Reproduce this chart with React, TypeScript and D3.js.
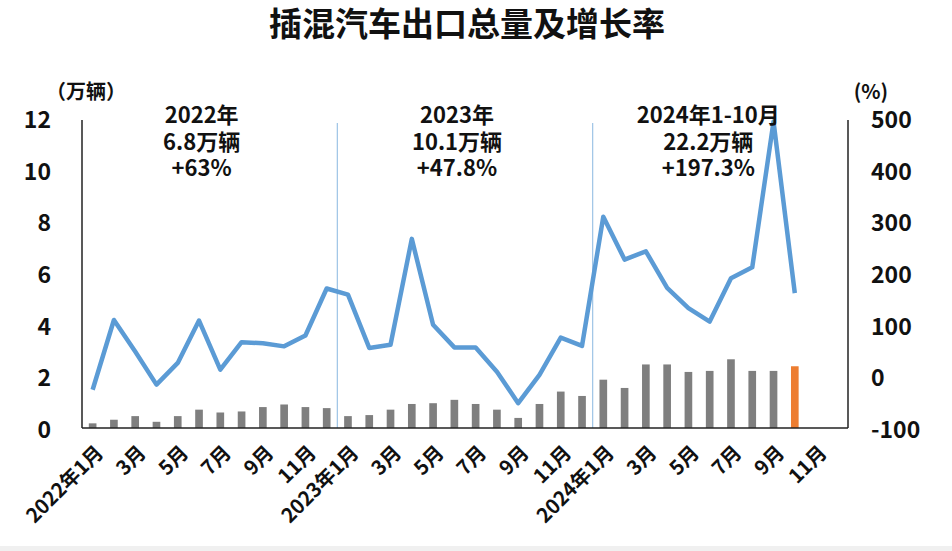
import React, {FC} from 'react';
import {scaleLinear, scaleBand, line} from 'd3';

// monthly PHEV export volume (万辆), 2022-01 .. 2024-10
const volume2022 = [0.18, 0.32, 0.46, 0.24, 0.46, 0.71, 0.6, 0.64, 0.81, 0.91, 0.81, 0.77];
const volume2023 = [0.46, 0.5, 0.71, 0.93, 0.96, 1.09, 0.93, 0.71, 0.39, 0.93, 1.41, 1.24];
const volume2024 = [1.87, 1.55, 2.46, 2.46, 2.17, 2.21, 2.66, 2.21, 2.21, 2.39];

// year-on-year growth (%)
const growth2022 = [-26, 109, 48, -16, 26, 108, 13, 66, 64, 58, 79, 170];
const growth2023 = [158, 55, 61, 266, 100, 56, 56, 9, -52, 3, 75, 59];
const growth2024 = [309, 226, 242, 171, 132, 106, 190, 211, 493, 161];

const years = ['2022', '2023', '2024'];
const monthsPerYear = 12;

const leftTicks = [0, 2, 4, 6, 8, 10, 12];
const rightTicks = [-100, 0, 100, 200, 300, 400, 500];

const yearNotes = [
  ['2022年', '6.8万辆', '+63%'],
  ['2023年', '10.1万辆', '+47.8%'],
  ['2024年1-10月', '22.2万辆', '+197.3%'],
];

const title = '插混汽车出口总量及增长率';

const WIDTH = 952;
const HEIGHT = 551;
const FONT = '"Noto Sans CJK SC", "Noto Sans", sans-serif';

const margin = {left: 82, right: 104, top: 118, bottom: 123};

const textStyle = (size: number) => ({
  fontFamily: FONT,
  fontWeight: 700,
  fontSize: size,
  fill: '#111',
});

const App: FC = () => {
  const volumes = [...volume2022, ...volume2023, ...volume2024];
  const growth = [...growth2022, ...growth2023, ...growth2024];

  // all slots 2022-01 .. 2024-12
  const slots: string[] = [];
  years.forEach(y => {
    for (let m = 1; m <= monthsPerYear; m++) slots.push(`${y}-${m}`);
  });

  const x = scaleBand<string>()
    .domain(slots)
    .range([margin.left, WIDTH - margin.right])
    .paddingInner(0.64)
    .paddingOuter(0.32);

  const step = x.step();
  const cx = (i: number) => (x(slots[i]) as number) + x.bandwidth() / 2;

  const yLeft = scaleLinear()
    .domain([0, 12])
    .range([HEIGHT - margin.bottom, margin.top]);

  const yRight = scaleLinear()
    .domain([-100, 500])
    .range([HEIGHT - margin.bottom, margin.top]);

  const growthLine = line<number>()
    .x((_, i) => cx(i))
    .y(d => yRight(d));

  const axisY = yLeft(0);
  const lastIndex = volumes.length - 1;

  const monthLabel = (i: number) => {
    const m = (i % monthsPerYear) + 1;
    return m === 1 ? `${years[Math.floor(i / monthsPerYear)]}年1月` : `${m}月`;
  };

  return (
    <div style={{position: 'absolute', left: 0, top: 0}}>
      <svg width={WIDTH} height={HEIGHT} style={{display: 'block', background: '#fff'}}>
        <text x={467} y={36} textAnchor="middle" style={textStyle(33)}>
          {title}
        </text>

        {/* year separators */}
        {[1, 2].map(k => {
          const sx = margin.left + k * monthsPerYear * step;
          return (
            <line
              key={k}
              x1={sx}
              x2={sx}
              y1={margin.top + 5}
              y2={axisY}
              stroke="#9DC3E6"
              strokeWidth={1.2}
            />
          );
        })}

        {/* bars */}
        {volumes.map((v, i) => (
          <rect
            key={i}
            x={x(slots[i])}
            y={yLeft(v)}
            width={x.bandwidth()}
            height={axisY - yLeft(v)}
            fill={i === lastIndex ? '#ED7D31' : '#7F7F7F'}
          />
        ))}

        <path
          d={growthLine(growth) || ''}
          fill="none"
          stroke="#5B9BD5"
          strokeWidth={4.5}
          strokeLinejoin="round"
        />

        {/* axes frame */}
        <line x1={margin.left} x2={margin.left} y1={margin.top + 2} y2={axisY} stroke="#222" strokeWidth={1.5} />
        <line
          x1={WIDTH - margin.right}
          x2={WIDTH - margin.right}
          y1={margin.top + 2}
          y2={axisY}
          stroke="#222"
          strokeWidth={1.5}
        />
        <line x1={margin.left} x2={WIDTH - margin.right} y1={axisY} y2={axisY} stroke="#222" strokeWidth={1.5} />

        {leftTicks.map(t => (
          <text key={t} x={51} y={yLeft(t)} textAnchor="end" dominantBaseline="central" style={textStyle(23)}>
            {t}
          </text>
        ))}
        {rightTicks.map(t => (
          <text key={t} x={871} y={yRight(t)} textAnchor="start" dominantBaseline="central" style={textStyle(23)}>
            {t}
          </text>
        ))}

        <text x={86} y={90} textAnchor="middle" dominantBaseline="central" style={textStyle(20)}>
          （万辆）
        </text>
        <text x={871} y={90} textAnchor="middle" dominantBaseline="central" style={textStyle(20)}>
          (%)
        </text>

        {/* x labels, every other month */}
        {slots.map((s, i) =>
          i % 2 === 0 ? (
            <text
              key={s}
              transform={`translate(${cx(i) + 6}, ${axisY + 20}) rotate(-45)`}
              textAnchor="end"
              dominantBaseline="central"
              style={textStyle(20)}>
              {monthLabel(i)}
            </text>
          ) : null,
        )}

        {/* yearly summaries */}
        {yearNotes.map((lines, k) => {
          const mx = margin.left + (k * monthsPerYear + 6) * step - (k === 2 ? 12 : 8);
          return (
            <text key={k} x={mx} y={115} textAnchor="middle" style={textStyle(22)}>
              {lines.map((l, j) => (
                <tspan key={j} x={mx} dy={j === 0 ? 8 : 26.5}>
                  {l}
                </tspan>
              ))}
            </text>
          );
        })}

        <rect x={0} y={546} width={WIDTH} height={5} fill="#F0F0F0" />
      </svg>
    </div>
  );
};

export default App;
